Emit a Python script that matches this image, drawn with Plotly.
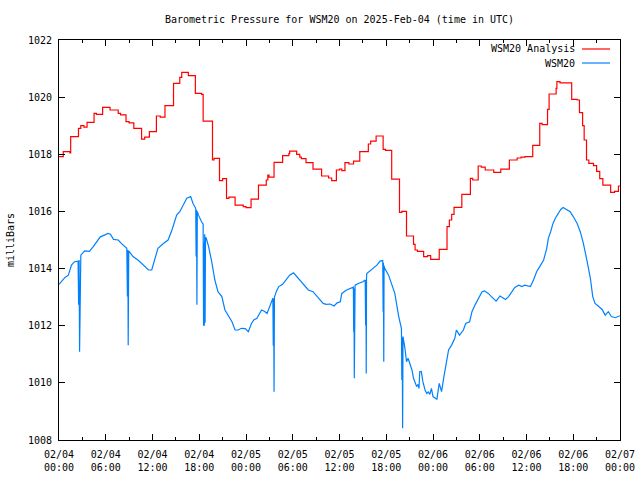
import pandas as pd
import plotly.graph_objects as go

# ---- data (hours since 2025-02-04 00:00 UTC, pressure in mb) ----
analysis_hours = [0.0, 0.55, 1.4, 1.5, 2.5, 2.8, 3.2, 3.6, 4.5, 4.8, 5.6, 6.55, 7.6, 7.9, 8.6, 9.0,
                  9.6, 10.6, 11.0, 11.6, 12.5, 13.0, 13.6, 14.7, 15.5, 15.75, 16.6, 17.5, 18.3, 18.5,
                  19.7, 19.9, 20.6, 21.0, 21.5, 21.8, 22.6, 23.65, 24.0, 24.65, 25.6, 26.6, 26.8,
                  26.95, 27.6, 28.7, 29.5, 29.6, 30.5, 30.9, 31.1, 31.7, 32.6, 33.7, 34.6, 35.0,
                  35.6, 36.0, 36.3, 36.7, 37.2, 37.8, 38.6, 39.7, 40.0, 40.7, 41.6, 41.9, 42.7,
                  43.7, 44.0, 44.6, 45.5, 45.7, 46.0, 46.8, 47.3, 47.7, 48.8, 49.8, 50.1, 50.4,
                  50.7, 51.7, 52.8, 53.1, 53.8, 54.2, 54.7, 55.8, 56.7, 57.8, 58.8, 59.3, 59.8,
                  60.8, 61.7, 62.0, 62.7, 62.9, 63.8, 63.9, 64.3, 65.8, 66.5, 66.8, 67.2, 67.4,
                  67.7, 68.0, 68.6, 69.0, 69.4, 69.8, 70.8, 71.3, 71.8, 72.0]
analysis_mb = [1017.92, 1018.09, 1018.05, 1018.62, 1018.91, 1019.00, 1018.95, 1019.12, 1019.43,
               1019.40, 1019.64, 1019.55, 1019.43, 1019.38, 1019.14, 1019.10, 1018.91, 1018.53,
               1018.60, 1018.79, 1019.34, 1019.30, 1019.70, 1020.48, 1020.69, 1020.87, 1020.75,
               1020.13, 1020.10, 1019.16, 1017.80, 1017.86, 1017.08, 1017.15, 1016.46, 1016.50,
               1016.22, 1016.17, 1016.13, 1016.43, 1016.92, 1017.10, 1017.27, 1017.20, 1017.72,
               1017.95, 1018.02, 1018.11, 1018.00, 1017.90, 1017.85, 1017.71, 1017.48, 1017.24,
               1017.17, 1017.08, 1017.45, 1017.48, 1017.43, 1017.71, 1017.66, 1017.76, 1018.09,
               1018.36, 1018.46, 1018.64, 1018.17, 1018.14, 1017.13, 1015.97, 1016.00, 1015.14,
               1014.85, 1014.65, 1014.60, 1014.42, 1014.45, 1014.32, 1014.67, 1015.47, 1015.70,
               1015.90, 1016.14, 1016.60, 1017.16, 1017.10, 1017.59, 1017.55, 1017.45, 1017.37,
               1017.48, 1017.80, 1017.87, 1017.90, 1017.92, 1018.31, 1019.08, 1019.04, 1019.57,
               1020.11, 1020.31, 1020.54, 1020.50, 1019.92, 1019.90, 1019.46, 1019.00, 1018.50,
               1017.80, 1017.68, 1017.60, 1017.40, 1017.15, 1016.92, 1016.67, 1016.70, 1016.89,
               1016.89]

station_hours = [0.00, 0.40, 0.77, 1.20, 1.60, 2.00, 2.45, 2.52, 2.58, 2.64, 2.72, 2.80, 3.30, 3.90,
                 4.40, 4.80, 5.30, 5.90, 6.30, 6.60, 7.00, 7.60, 8.00, 8.70, 8.78, 8.84, 8.88, 8.95,
                 9.50, 10.20, 10.80, 11.50, 11.90, 12.30, 12.70, 13.40, 14.00, 14.50, 15.10, 15.50,
                 16.00, 16.40, 16.90, 17.20, 17.55, 17.60, 17.65, 17.70, 17.75, 17.90, 18.30, 18.50,
                 18.55, 18.60, 18.65, 18.70, 18.75, 18.80, 18.90, 19.20, 19.60, 20.00, 20.40, 20.90,
                 21.30, 21.70, 22.20, 22.60, 23.00, 23.40, 23.90, 24.30, 24.70, 25.00, 25.40, 26.00,
                 26.40, 26.70, 27.10, 27.45, 27.50, 27.55, 27.60, 27.65, 27.90, 28.20, 28.70, 29.20,
                 29.60, 30.10, 30.50, 30.90, 31.40, 32.00, 32.60, 33.30, 33.90, 34.30, 34.80, 35.30,
                 35.70, 36.10, 36.30, 36.90, 37.40, 37.78, 37.82, 37.86, 37.90, 37.95, 38.00, 38.40,
                 39.00, 39.30, 39.35, 39.40, 39.43, 39.47, 39.50, 40.10, 40.80, 41.20, 41.55, 41.60,
                 41.64, 41.68, 41.72, 41.80, 42.30, 42.70, 43.10, 43.60, 43.85, 43.95, 44.00, 44.05,
                 44.10, 44.15, 44.40, 44.60, 44.80, 45.00, 45.30, 45.50, 45.70, 45.90, 46.10, 46.20,
                 46.30, 46.50, 46.70, 46.98, 47.20, 47.40, 47.60, 47.80, 48.00, 48.50, 48.80, 49.10,
                 49.40, 49.80, 50.00, 50.40, 50.80, 51.00, 51.40, 51.90, 52.20, 52.70, 53.00, 53.40,
                 53.80, 54.30, 54.60, 55.10, 55.50, 56.10, 56.60, 57.30, 57.70, 58.10, 58.50, 59.00,
                 59.40, 59.80, 60.50, 60.90, 61.30, 61.70, 62.20, 62.60, 62.80, 63.10, 63.40, 63.70,
                 64.10, 64.40, 64.70, 65.20, 65.60, 66.00, 66.50, 66.90, 67.30, 67.70, 68.20, 68.50,
                 68.80, 69.20, 69.70, 70.10, 70.50, 70.90, 71.40, 72.00]
station_mb = [1013.45, 1013.58, 1013.69, 1013.77, 1014.12, 1014.24, 1014.26, 1012.73, 1014.30,
              1011.09, 1014.40, 1014.47, 1014.62, 1014.60, 1014.77, 1014.94, 1015.11, 1015.18,
              1015.23, 1015.20, 1015.02, 1015.00, 1014.88, 1014.71, 1013.02, 1014.65, 1011.32,
              1014.62, 1014.42, 1014.28, 1014.12, 1013.95, 1013.95, 1014.30, 1014.71, 1014.88,
              1015.00, 1015.35, 1015.87, 1015.99, 1016.28, 1016.46, 1016.52, 1016.28, 1016.11,
              1014.42, 1016.05, 1012.73, 1016.00, 1015.87, 1015.64, 1015.55, 1012.00, 1014.90,
              1012.00, 1015.20, 1012.10, 1015.10, 1015.06, 1014.77, 1014.24, 1013.60, 1013.19,
              1013.02, 1012.55, 1012.37, 1012.14, 1011.85, 1011.85, 1011.91, 1011.90, 1011.79,
              1012.08, 1012.20, 1012.26, 1012.55, 1012.50, 1012.43, 1012.73, 1012.96, 1011.30,
              1012.96, 1009.69, 1013.00, 1013.20, 1013.37, 1013.45, 1013.62, 1013.77, 1013.85,
              1013.72, 1013.58, 1013.42, 1013.25, 1013.19, 1012.98, 1012.78, 1012.75, 1012.76,
              1012.69, 1012.80, 1012.84, 1013.13, 1013.25, 1013.31, 1013.35, 1011.79, 1013.30,
              1010.16, 1013.40, 1013.42, 1013.48, 1013.54, 1013.60, 1012.02, 1013.60, 1010.33,
              1013.70, 1013.83, 1013.97, 1014.12, 1014.26, 1014.28, 1012.49, 1014.20, 1010.74,
              1014.10, 1014.01, 1013.77, 1013.42, 1013.13, 1012.32, 1012.00, 1011.90, 1010.10,
              1011.60, 1008.41, 1011.62, 1011.21, 1010.74, 1010.86, 1010.68, 1010.45, 1010.16,
              1010.04, 1009.87, 1009.95, 1009.80, 1010.39, 1010.40, 1010.04, 1009.75, 1009.63,
              1009.68, 1009.60, 1009.81, 1009.52, 1009.43, 1009.98, 1009.69, 1010.22, 1010.80,
              1011.15, 1011.33, 1011.56, 1011.85, 1011.67, 1011.85, 1012.08, 1012.14, 1012.49,
              1012.73, 1012.96, 1013.19, 1013.22, 1013.13, 1013.02, 1012.86, 1013.04, 1012.92,
              1013.02, 1013.19, 1013.34, 1013.42, 1013.37, 1013.42, 1013.37, 1013.60, 1013.89,
              1014.07, 1014.30, 1014.71, 1015.06, 1015.29, 1015.58, 1015.76, 1015.93, 1016.07,
              1016.14, 1016.05, 1015.99, 1015.82, 1015.58, 1015.29, 1014.88, 1014.36, 1013.66,
              1013.02, 1012.78, 1012.69, 1012.57, 1012.37, 1012.49, 1012.32, 1012.28, 1012.35]

tick_hours = [0, 6, 12, 18, 24, 30, 36, 42, 48, 54, 60, 66, 72]
tick_labels = ["02/04<br>00:00", "02/04<br>06:00", "02/04<br>12:00", "02/04<br>18:00",
               "02/05<br>00:00", "02/05<br>06:00", "02/05<br>12:00", "02/05<br>18:00",
               "02/06<br>00:00", "02/06<br>06:00", "02/06<br>12:00", "02/06<br>18:00",
               "02/07<br>00:00"]

base = pd.Timestamp("2025-02-04 00:00")
def to_time(hours):
    return [base + pd.Timedelta(hours=h) for h in hours]

FONT = "DejaVu Sans Mono"
RED = "#ff0000"
BLUE = "#0080ff"

fig = go.Figure()
fig.add_trace(go.Scatter(x=to_time(analysis_hours), y=analysis_mb, mode="lines",
                         line=dict(color=RED, width=1.2, shape="hv"),
                         name="WSM20 Analysis", showlegend=False))
fig.add_trace(go.Scatter(x=to_time(station_hours), y=station_mb, mode="lines",
                         line=dict(color=BLUE, width=1.2),
                         name="WSM20", showlegend=False))

# legend drawn gnuplot-style (text left of sample line)
for label, color, yp in [("WSM20 Analysis", RED, 0.9775), ("WSM20", BLUE, 0.9425)]:
    fig.add_annotation(x=0.9234, y=yp, xref="paper", yref="paper", text=label,
                       showarrow=False, xanchor="right", yanchor="middle",
                       font=dict(family=FONT, size=10, color="black"))
    fig.add_shape(type="line", xref="paper", yref="paper", x0=0.9323, x1=0.9822,
                  y0=yp, y1=yp, line=dict(color=color, width=1.2))

fig.update_layout(
    width=640, height=480,
    margin=dict(l=59, r=20, t=40, b=40, autoexpand=False),
    paper_bgcolor="white", plot_bgcolor="white",
    font=dict(family=FONT, size=10, color="black"),
    title=dict(text="Barometric Pressure for WSM20 on 2025-Feb-04 (time in UTC)",
               x=0.5, xref="paper", y=1 - 19 / 480, yref="container",
               xanchor="center", yanchor="middle",
               font=dict(family=FONT, size=10, color="black")),
    xaxis=dict(type="date", range=[base, base + pd.Timedelta(hours=72)],
               tickvals=to_time(tick_hours), ticktext=tick_labels,
               ticks="inside", ticklen=6, tickwidth=1, tickcolor="black",
               showline=True, linecolor="black", linewidth=1, mirror="ticks",
               showgrid=False, zeroline=False, automargin=False,
               ticklabelstandoff=5,
               minor=dict(dtick=3 * 3600 * 1000, ticks="inside", ticklen=3,
                          tickcolor="black", showgrid=False),
               tickfont=dict(family=FONT, size=10)),
    yaxis=dict(range=[1008, 1022], dtick=2, tick0=1008,
               ticks="inside", ticklen=6, tickwidth=1, tickcolor="black",
               showline=True, linecolor="black", linewidth=1, mirror="ticks",
               showgrid=False, zeroline=False, automargin=False,
               ticklabelstandoff=4,
               title=dict(text="milliBars", font=dict(family=FONT, size=10), standoff=11),
               tickfont=dict(family=FONT, size=10)),
)

fig.write_html("out.html")
